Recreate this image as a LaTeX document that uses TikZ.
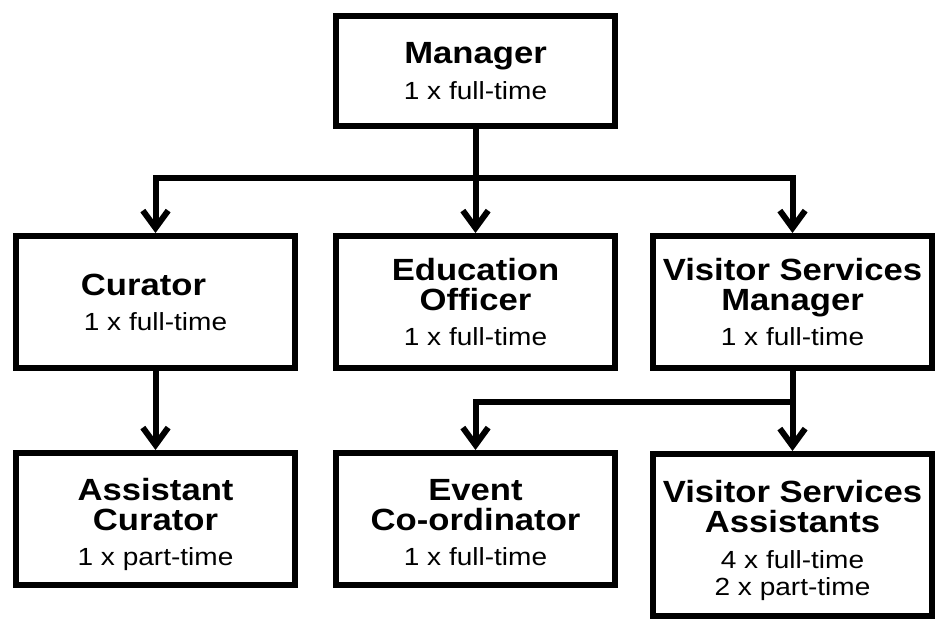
\documentclass[tikz,border=0pt]{standalone}
\usepackage{fontspec}
\setmainfont{Liberation Sans}[FakeStretch=1.13]
\usetikzlibrary{arrows.meta}
\newcommand{\ttl}[1]{{\fontsize{23pt}{20.25pt}\selectfont\bfseries #1}}
\newcommand{\topst}{\rule{0pt}{21.3pt}}
\newcommand{\topstlow}{\rule{0pt}{25.5pt}}
\newcommand{\botst}{\rule[-5pt]{0pt}{0pt}}
\newcommand{\boxfont}{\fontsize{18.6pt}{20.25pt}\selectfont\lineskiplimit=-100pt\relax}
\begin{document}
\begin{tikzpicture}[x=0.75pt,y=-0.75pt,
  box/.style={draw,line width=4.5pt,minimum width=209.25pt,minimum height=99pt,align=center,inner sep=0pt,
    font=\boxfont},
  conn/.style={line width=4.5pt,line join=miter},
  arr/.style={conn,-{Straight Barb[length=13pt,width=19pt,line width=4.5pt]}}]
\useasboundingbox (0,0) rectangle (949,636);
\node[box,minimum height=82.5pt] (mgr) at (475.5,71) {\topst\ttl{Manager}\\[6.75pt]1 x full-time\botst};
\node[box] (cur) at (155.5,302) {\topst\ttl{Curator}\hspace*{18pt}\\[6pt]1 x full-time\botst};
\node[box] (edu) at (475.5,302) {\topst\ttl{Education}\\[2.25pt]\ttl{Officer}\\[6pt]1 x full-time\botst};
\node[box] (vsm) at (792.5,302) {\topst\ttl{Visitor Services}\\[2.25pt]\ttl{Manager}\\[6pt]1 x full-time\botst};
\node[box] (acu) at (155.5,519) {\topstlow\ttl{Assistant}\\[2.25pt]\ttl{Curator}\\[6pt]1 x part-time\botst};
\node[box] (evt) at (475.5,519) {\topstlow\ttl{Event}\\[2.25pt]\ttl{Co-ordinator}\\[6pt]1 x full-time\botst};
\node[box,minimum height=121.5pt] (vsa) at (792.5,535) {\topstlow\ttl{Visitor Services}\\[2.25pt]\ttl{Assistants}\\[6.75pt]4 x full-time\\2 x part-time\botst};
\coordinate (b1) at (475.5,178);
\coordinate (b2) at (792.5,402);
\draw[arr] (mgr.south) -- (edu.north);
\draw[arr] (b1) -| (cur.north);
\draw[arr] (b1) -| (vsm.north);
\draw[arr] (cur.south) -- (acu.north);
\draw[arr] (vsm.south) -- (vsa.north);
\draw[arr] (b2) -| (evt.north);
\end{tikzpicture}
\end{document}
